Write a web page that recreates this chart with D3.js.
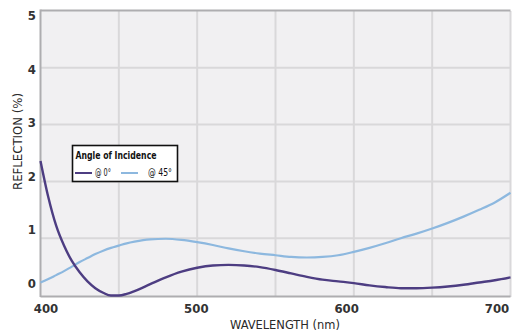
<!DOCTYPE html>
<html>
<head>
<meta charset="utf-8">
<script src="https://cdn.jsdelivr.net/npm/d3@7"></script>
<style>
  html, body { margin: 0; padding: 0; background: #fff; }
  svg { display: block; }
  text { font-family: "Liberation Sans Narrow", "DejaVu Sans Condensed", "Liberation Sans", sans-serif; }
</style>
</head>
<body>
<svg id="chart" width="512" height="331"></svg>
<script>
// Wavelength samples (nm)
const wavelengths = [400, 405, 410, 415, 420, 425, 430, 435, 440, 445, 450, 455, 460, 470, 480, 490,
  500, 510, 520, 530, 540, 550, 560, 570, 580, 590, 600, 610, 620, 630, 640, 650,
  660, 670, 680, 690, 700];

// Reflection (%) at 0° incidence
const reflection0 = [2.36, 1.72, 1.22, 0.87, 0.60, 0.40, 0.24, 0.12, 0.04, -0.01, -0.01, 0.02, 0.07, 0.19, 0.31, 0.41,
  0.48, 0.52, 0.53, 0.52, 0.49, 0.44, 0.38, 0.32, 0.27, 0.24, 0.21, 0.17, 0.14, 0.12, 0.12, 0.13,
  0.15, 0.18, 0.22, 0.26, 0.31];

// Reflection (%) at 45° incidence
const reflection45 = [0.22, 0.28, 0.35, 0.42, 0.50, 0.58, 0.65, 0.72, 0.78, 0.83, 0.87, 0.91, 0.94, 0.98, 0.99, 0.97,
  0.93, 0.88, 0.82, 0.77, 0.73, 0.70, 0.67, 0.66, 0.67, 0.70, 0.76, 0.83, 0.91, 1.00, 1.08, 1.17,
  1.27, 1.38, 1.50, 1.63, 1.80];

const xTicks = [400, 500, 600, 700];
const xGrid = [400, 450, 500, 550, 600, 650, 700];
const yTicks = [0, 1, 2, 3, 4, 5];

const seriesNames = ["@ 0°", "@ 45°"];
const seriesColors = ["#4d3d82", "#8db8df"];

const svg = d3.select("#chart");

const x = d3.scaleLinear().domain([400, 700]).range([40.5, 510.5]);
const y = d3.scaleLinear().domain([0, 5]).range([295, 11]);
// tick label placement (labels sit on their own, slightly tighter spacing)
const xLabel = d3.scaleLinear().domain([400, 700]).range([46, 497]);
const yLabel = d3.scaleLinear().domain([0, 5]).range([288, 20]);

// plot background
svg.append("rect")
  .attr("x", x(400)).attr("y", y(5))
  .attr("width", x(700) - x(400)).attr("height", y(0) - y(5) + 2)
  .attr("fill", "#f1f0f2");

// grid
const grid = svg.append("g");
grid.selectAll("line.v").data(xGrid.slice(1)).join("line")
  .attr("x1", d => x(d)).attr("x2", d => x(d))
  .attr("y1", y(5)).attr("y2", y(0) + 2)
  .attr("stroke", "#d9d8da").attr("stroke-width", 2);
grid.selectAll("line.h").data(yTicks.slice(1, -1)).join("line")
  .attr("x1", x(400)).attr("x2", x(700))
  .attr("y1", d => y(d)).attr("y2", d => y(d))
  .attr("stroke", "#d9d8da").attr("stroke-width", 2);

// frame: top, left, bottom
const frame = svg.append("g").attr("stroke", "#aeadb0").attr("stroke-width", 2).attr("fill", "none");
frame.append("line").attr("x1", x(400)).attr("x2", x(700)).attr("y1", y(5) - 0.5).attr("y2", y(5) - 0.5);
frame.append("line").attr("x1", x(400)).attr("x2", x(400)).attr("y1", y(5) - 1.5).attr("y2", y(0) + 2);
frame.append("line").attr("x1", x(400)).attr("x2", x(700)).attr("y1", y(0) + 1.5).attr("y2", y(0) + 1.5);

// curves
const line = d3.line()
  .x((d, i) => x(wavelengths[i]))
  .y(d => y(d))
  .curve(d3.curveMonotoneX);

svg.append("path").datum(reflection45)
  .attr("d", line).attr("fill", "none")
  .attr("stroke", seriesColors[1]).attr("stroke-width", 2.2);
svg.append("path").datum(reflection0)
  .attr("d", line).attr("fill", "none")
  .attr("stroke", seriesColors[0]).attr("stroke-width", 2.4);

// tick labels
svg.append("g").selectAll("text").data(xTicks).join("text")
  .attr("x", d => xLabel(d)).attr("y", 313)
  .attr("text-anchor", "middle")
  .attr("font-size", 13).attr("font-weight", "bold").attr("fill", "#333")
  .text(d => d);
svg.append("g").selectAll("text").data(yTicks).join("text")
  .attr("x", 36).attr("y", d => yLabel(d))
  .attr("text-anchor", "end")
  .attr("font-size", 13).attr("font-weight", "bold").attr("fill", "#333")
  .text(d => d);

// axis titles
svg.append("text")
  .attr("x", 285).attr("y", 329)
  .attr("text-anchor", "middle")
  .attr("font-size", 13).attr("fill", "#2a2a2a")
  .attr("textLength", 110).attr("lengthAdjust", "spacingAndGlyphs")
  .text("WAVELENGTH (nm)");
svg.append("text")
  .attr("transform", "translate(22,141.5) rotate(-90)")
  .attr("text-anchor", "middle")
  .attr("font-size", 13).attr("fill", "#2a2a2a")
  .attr("textLength", 97).attr("lengthAdjust", "spacingAndGlyphs")
  .text("REFLECTION (%)");

// legend
const lg = svg.append("g");
lg.append("rect")
  .attr("x", 72.5).attr("y", 145.5).attr("width", 105).attr("height", 36)
  .attr("fill", "#fff").attr("stroke", "#111").attr("stroke-width", 1.6);
lg.append("text")
  .attr("x", 75.5).attr("y", 158.5)
  .attr("font-size", 10).attr("font-weight", "bold").attr("fill", "#111")
  .attr("textLength", 81).attr("lengthAdjust", "spacingAndGlyphs")
  .text("Angle of Incidence");
const items = [
  { lx: 75, tx: 95, tw: 16 },
  { lx: 121, tx: 148, tw: 24 }
];
items.forEach((it, i) => {
  lg.append("line")
    .attr("x1", it.lx).attr("x2", it.lx + 17)
    .attr("y1", 173).attr("y2", 173)
    .attr("stroke", seriesColors[i]).attr("stroke-width", 2);
  lg.append("text")
    .attr("x", it.tx).attr("y", 176)
    .attr("font-size", 10).attr("fill", "#111")
    .attr("textLength", it.tw).attr("lengthAdjust", "spacingAndGlyphs")
    .text(seriesNames[i]);
});
</script>
</body>
</html>
